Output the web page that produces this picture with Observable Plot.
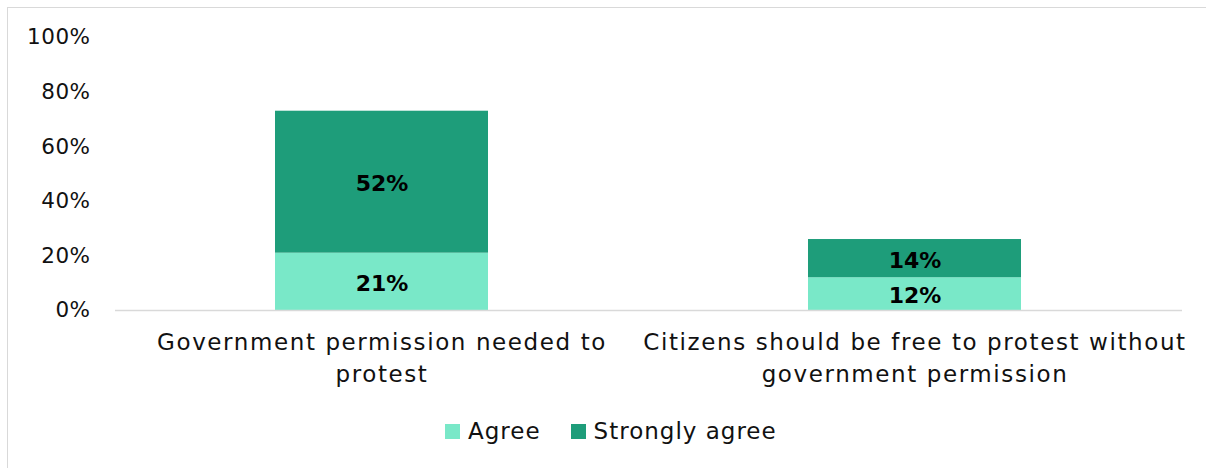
<!DOCTYPE html>
<html>
<head>
<meta charset="utf-8">
<script src="https://cdn.jsdelivr.net/npm/d3@7"></script>
<script src="https://cdn.jsdelivr.net/npm/@observablehq/plot@0.6"></script>
<style>
  html, body { margin: 0; padding: 0; background: #fff; }
  #wrap { position: relative; width: 1206px; height: 468px; overflow: hidden; font-family: "DejaVu Sans", sans-serif; }
  #frame { position: absolute; left: 7px; top: 7px; width: 1250px; height: 500px; border: 1.5px solid #d9d9d9; box-sizing: border-box; }
  #chart { position: absolute; left: 0; top: 0; }
  #legend { position: absolute; left: 445px; top: 418px; display: flex; align-items: center; font-size: 23px; letter-spacing: 1px; color: #111; }
  .sw { width: 15px; height: 15px; display: inline-block; margin-right: 8px; }
  .item { display: flex; align-items: center; margin-right: 30px; }
  #chart svg g[aria-label="x-axis tick label"] text { letter-spacing: 1.6px; }
  #chart svg g[aria-label="y-axis tick label"] text { letter-spacing: 0.5px; }
</style>
</head>
<body>
<div id="wrap">
  <div id="frame"></div>
  <div id="chart"></div>
  <div id="legend"></div>
</div>
<script>
const categories = [
  "Government permission needed to protest",
  "Citizens should be free to protest without government permission"
];
const categoryLabels = [
  "Government permission needed to\nprotest",
  "Citizens should be free to protest without\ngovernment permission"
];
const series = ["Agree", "Strongly agree"];
const colors = ["#79E8C8", "#1E9D7A"];
const agree = [21, 12];
const stronglyAgree = [52, 14];
const yTicks = [0, 20, 40, 60, 80, 100];

const rows = [];
categories.forEach((c, i) => {
  rows.push({category: c, series: series[0], value: agree[i]});
  rows.push({category: c, series: series[1], value: stronglyAgree[i]});
});
const labelOf = new Map(categories.map((c, i) => [c, categoryLabels[i]]));

const chart = Plot.plot({
  width: 1206,
  height: 410,
  marginTop: 37,
  marginBottom: 100,
  marginLeft: 115,
  marginRight: 24,
  style: {fontFamily: "DejaVu Sans, sans-serif", background: "transparent", color: "#111"},
  x: {domain: categories, paddingInner: 0.6, paddingOuter: 0.3, label: null},
  y: {domain: [0, 100], label: null},
  color: {domain: series, range: colors},
  marks: [
    Plot.axisY({ticks: yTicks, tickFormat: d => d + "%", tickSize: 0, tickPadding: 25, fontSize: 21.5, label: null}),
    Plot.axisX({tickSize: 0, tickPadding: 16, fontSize: 23, tickFormat: d => labelOf.get(d), lineHeight: 1.42, label: null, textAnchor: "middle"}),
    Plot.barY(rows, {x: "category", y: "value", fill: "series", z: "series"}),
    Plot.ruleY([0], {stroke: "#d9d9d9", strokeWidth: 1.5}),
    Plot.text(rows, Plot.stackY({x: "category", y: "value", z: "series", text: d => d.value + "%", fontSize: 22, fontWeight: "bold", fill: "#000", dy: 2}))
  ]
});
document.getElementById("chart").appendChild(chart);

const legend = document.getElementById("legend");
series.forEach((s, i) => {
  const item = document.createElement("div");
  item.className = "item";
  const sw = document.createElement("span");
  sw.className = "sw";
  sw.style.background = colors[i];
  item.appendChild(sw);
  item.appendChild(document.createTextNode(s));
  legend.appendChild(item);
});
</script>
</body>
</html>
